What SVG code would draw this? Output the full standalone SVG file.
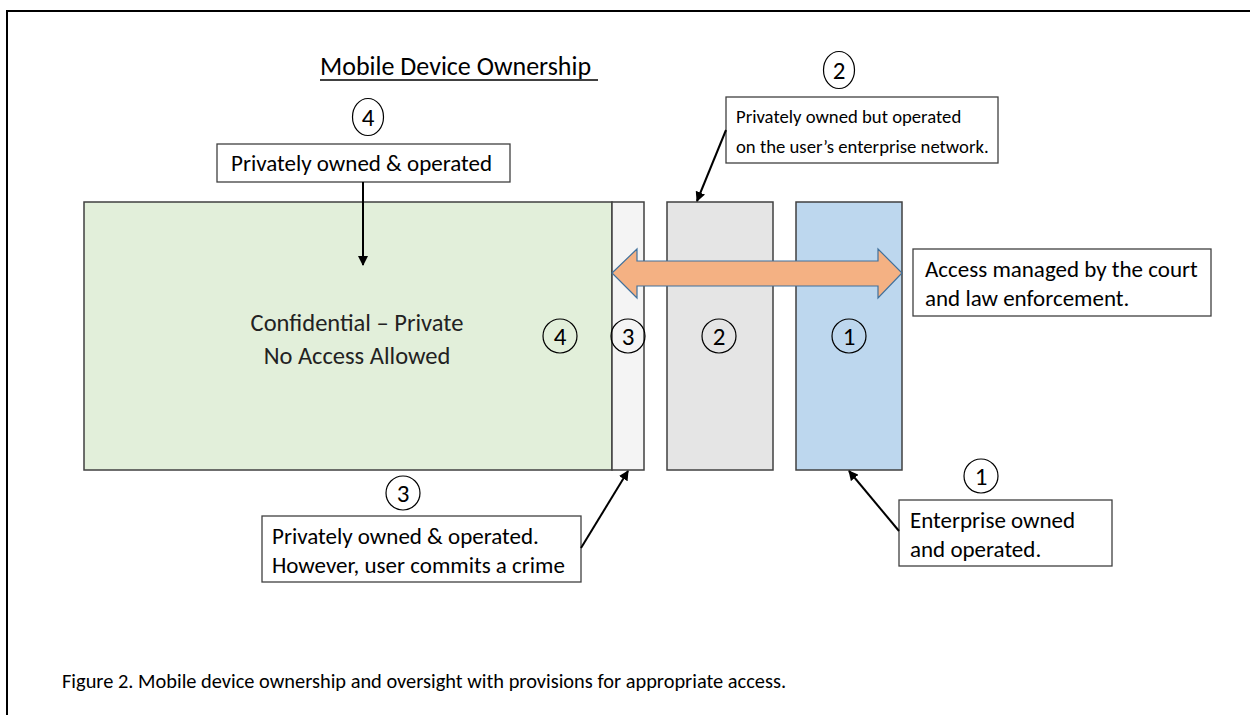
<svg xmlns="http://www.w3.org/2000/svg" width="1250" height="715" viewBox="0 0 1250 715">
  <defs>
    <marker id="arrow" viewBox="0 0 10 10" refX="9" refY="5" markerWidth="5" markerHeight="5" orient="auto">
      <path d="M0,0 L10,5 L0,10 Z" fill="#000"/>
    </marker>
    <style>
      text { font-family: Carlito, Lato, "Liberation Sans", sans-serif; fill: #000; }
      .lbl { font-size: 23px; }
      .small { font-size: 18.7px; }
      .big { font-size: 24.5px; fill: #222; }
      .box { fill: #fff; stroke: #404040; stroke-width: 1.3; }
      .band { stroke: #404040; stroke-width: 1.5; }
      .num { fill: none; stroke: #000; stroke-width: 1.2; }
      .numt { font-size: 25px; text-anchor: middle; }
      .conn { stroke: #000; stroke-width: 2; fill: none; marker-end: url(#arrow); }
    </style>
  </defs>

  <rect width="1250" height="715" fill="#fff"/>
  <!-- page frame -->
  <path d="M7,715 V11 H1250" fill="none" stroke="#000" stroke-width="2"/>

  <!-- title -->
  <g id="title">
    <text x="320" y="75" style="font-size:26px">Mobile Device Ownership</text>
    <line x1="320" y1="80" x2="598" y2="80" stroke="#000" stroke-width="1.3"/>
  </g>

  <!-- ownership bands -->
  <g id="band-private">
    <rect class="band" x="84" y="202" width="528" height="268" fill="#e2efda"/>
    <text class="big" x="357" y="331" text-anchor="middle">Confidential – Private</text>
    <text class="big" x="357" y="364" text-anchor="middle">No Access Allowed</text>
    <circle class="num" cx="560" cy="336" r="17"/>
    <text class="numt" x="560" y="345">4</text>
  </g>
  <g id="band-crime">
    <rect class="band" x="612" y="202" width="32" height="268" fill="#f4f4f4"/>
    <circle class="num" cx="628" cy="336" r="17"/>
    <text class="numt" x="628" y="345">3</text>
  </g>
  <g id="band-byod">
    <rect class="band" x="667" y="202" width="106" height="268" fill="#e5e5e5"/>
    <circle class="num" cx="719" cy="336" r="17"/>
    <text class="numt" x="719" y="345">2</text>
  </g>
  <g id="band-enterprise">
    <rect class="band" x="796" y="202" width="106" height="268" fill="#bdd7ee"/>
    <circle class="num" cx="849" cy="336" r="17"/>
    <text class="numt" x="849" y="345">1</text>
  </g>

  <!-- lawful access span -->
  <g id="access-arrow">
    <polygon points="612,273 637,249 637,261 878,261 878,249 902,273 878,298 878,286 637,286 637,298" fill="#f4b183" stroke="#41719c" stroke-width="1.2"/>
  </g>

  <!-- callouts -->
  <g id="note-4">
    <ellipse class="num" cx="368" cy="117" rx="15.5" ry="18.5"/>
    <text class="numt" x="368" y="126">4</text>
    <rect class="box" x="217" y="144" width="293" height="38"/>
    <text class="lbl" x="231" y="171">Privately owned &amp; operated</text>
  </g>
  <g id="note-2">
    <ellipse class="num" cx="839" cy="70" rx="15.5" ry="18.5"/>
    <text class="numt" x="839" y="79">2</text>
    <rect class="box" x="726" y="97" width="272" height="66"/>
    <text class="small" x="736" y="123">Privately owned but operated</text>
    <text class="small" x="736" y="153">on the user’s enterprise network.</text>
  </g>
  <g id="note-court">
    <rect class="box" x="913" y="249" width="298" height="67"/>
    <text class="lbl" x="925" y="277">Access managed by the court</text>
    <text class="lbl" x="925" y="306">and law enforcement.</text>
  </g>
  <g id="note-3">
    <circle class="num" cx="403" cy="493" r="17"/>
    <text class="numt" x="403" y="502">3</text>
    <rect class="box" x="262" y="516" width="319" height="66"/>
    <text class="lbl" x="272" y="544">Privately owned &amp; operated.</text>
    <text class="lbl" x="272" y="573">However, user commits a crime</text>
  </g>
  <g id="note-1">
    <circle class="num" cx="981" cy="476" r="17"/>
    <text class="numt" x="981" y="485">1</text>
    <rect class="box" x="899" y="500" width="213" height="66"/>
    <text class="lbl" x="910" y="528">Enterprise owned</text>
    <text class="lbl" x="910" y="557">and operated.</text>
  </g>

  <!-- connectors -->
  <g id="connectors">
    <line class="conn" x1="363" y1="182" x2="363" y2="265"/>
    <line class="conn" x1="726" y1="130" x2="697" y2="201"/>
    <line class="conn" x1="581" y1="548" x2="628" y2="471"/>
    <line class="conn" x1="899" y1="531" x2="849" y2="471"/>
  </g>

  <!-- caption -->
  <g id="caption">
    <text x="62" y="688" style="font-size:20.4px">Figure 2. Mobile device ownership and oversight with provisions for appropriate access.</text>
  </g>
</svg>
